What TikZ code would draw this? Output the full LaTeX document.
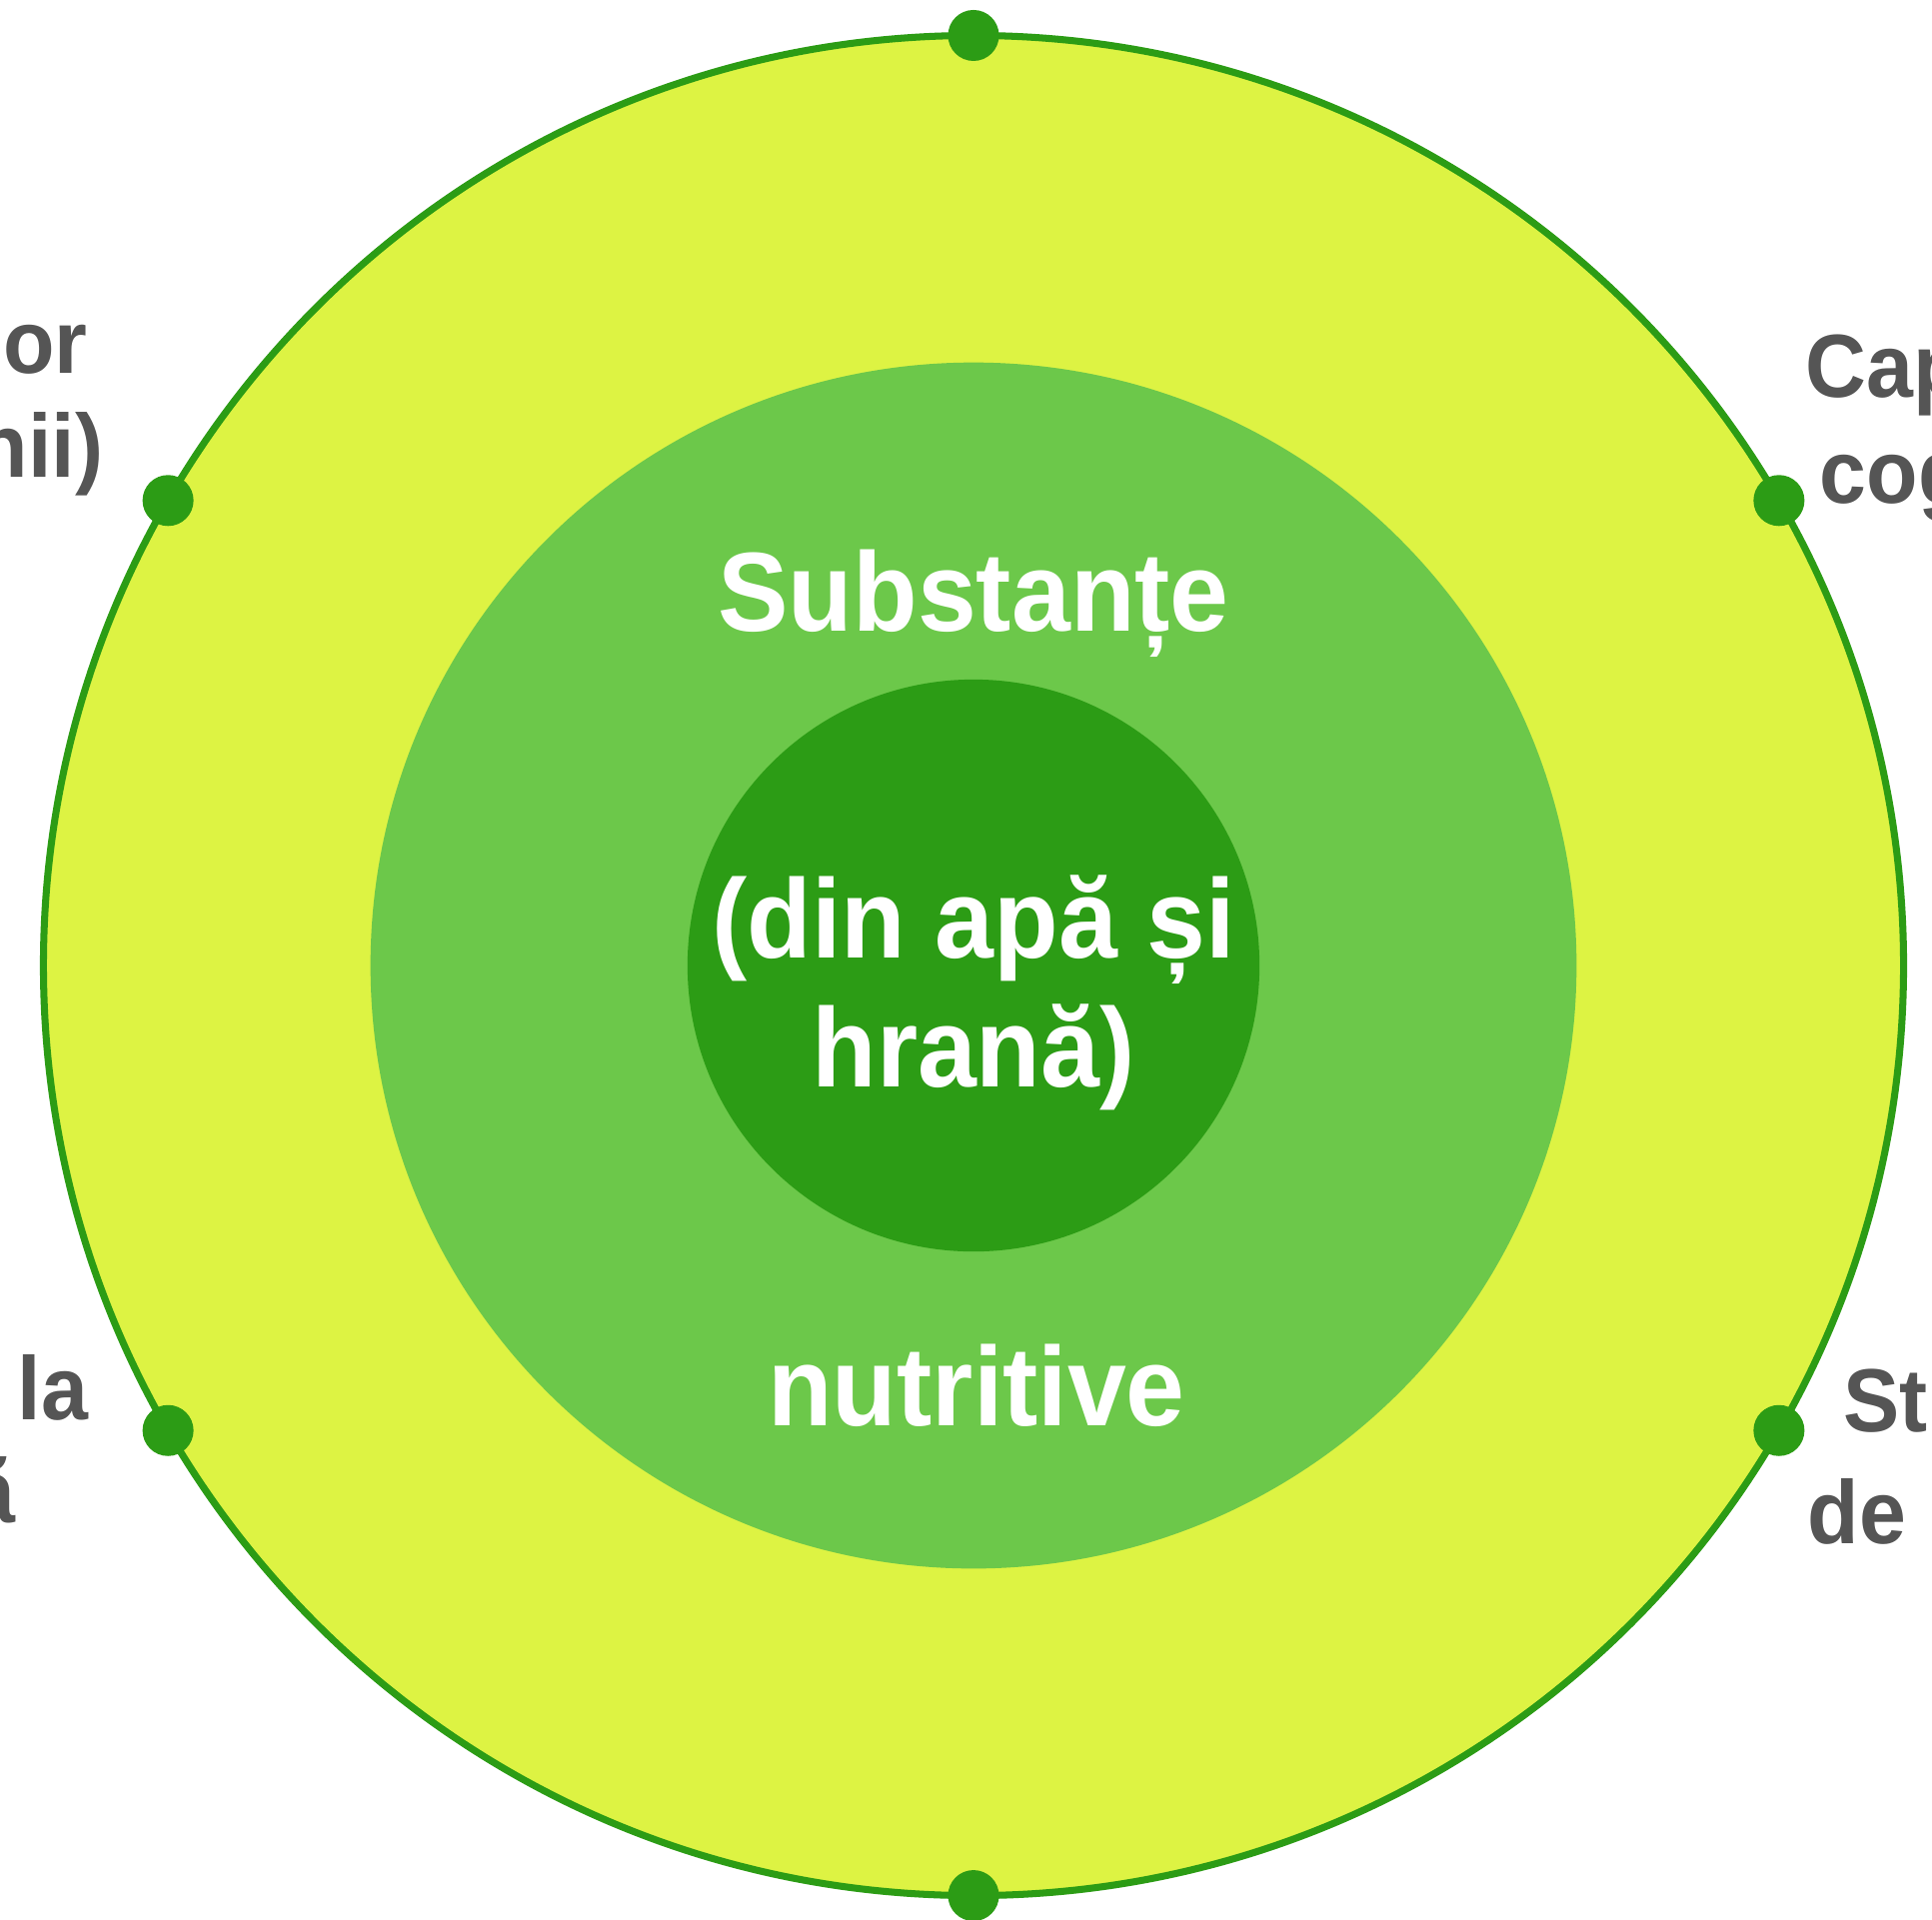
\documentclass[tikz,border=0pt]{standalone}
\usepackage{fontspec}
\setmainfont{Liberation Sans}
\newfontfamily\ringfont[FakeStretch=0.94]{Liberation Sans}
\usetikzlibrary{positioning}
\definecolor{ringyellow}{HTML}{DDF343}
\definecolor{ringmid}{HTML}{6CC84A}
\definecolor{ringdark}{HTML}{2C9C15}
\definecolor{labelgray}{HTML}{555555}

\begin{document}
\begin{tikzpicture}[x=0.01cm,y=-0.01cm,
		ring/.style={circle,inner sep=0pt,outer sep=0pt},
		dot/.style={circle,fill=ringdark,inner sep=0pt,minimum size=0.51cm},
		inside/.style={text=white,inner sep=0pt,font=\ringfont\bfseries\fontsize{32}{36.6}\selectfont},
		side/.style={text=labelgray,inner sep=0pt,font=\ringfont\bfseries\fontsize{25.5}{30}\selectfont}]
	\useasboundingbox (0,0) rectangle (1933,1920);
	\clip (0,0) rectangle (1933,1920);
	% rings
	\node[ring,draw=ringdark,line width=2pt,fill=ringyellow,minimum size=18.6cm] (outer) at (974,966) {};
	\node[ring,fill=ringmid,minimum size=12.06cm] (middle) at (outer.center) {};
	\node[ring,fill=ringdark,minimum size=5.72cm] (inner) at (outer.center) {};
	\foreach \a in {30,90,...,330}
		\node[dot] (dot_\a) at (outer.\a) {};
	% labels inside
	\node[inside,anchor=base] (subst) at (974,631) {Substanțe};
	\node[inside,anchor=base,align=center] (din) at (974,1087) {(din apă și\\hrană)};
	\node[inside,anchor=base] (nutr) at (977,1426) {nutritive};
	% labels outside
	\node[side,anchor=base east] (tl_1) at (88,373) {or};
	\node[side,anchor=base east] (tl_2) at (104,477) {nii)};
	\node[side,anchor=base west] (tr_1) at (1806,397) {Cap};
	\node[side,anchor=base west] (tr_2) at (1820,503) {cog};
	\node[side,anchor=base east] (bl_1) at (89,1420) {la};
	\node[side,anchor=base east] (bl_2) at (16,1523) {ă};
	\node[side,anchor=base west] (br_1) at (1844,1432) {St};
	\node[side,anchor=base west] (br_2) at (1808,1544) {de};
\end{tikzpicture}
\end{document}
